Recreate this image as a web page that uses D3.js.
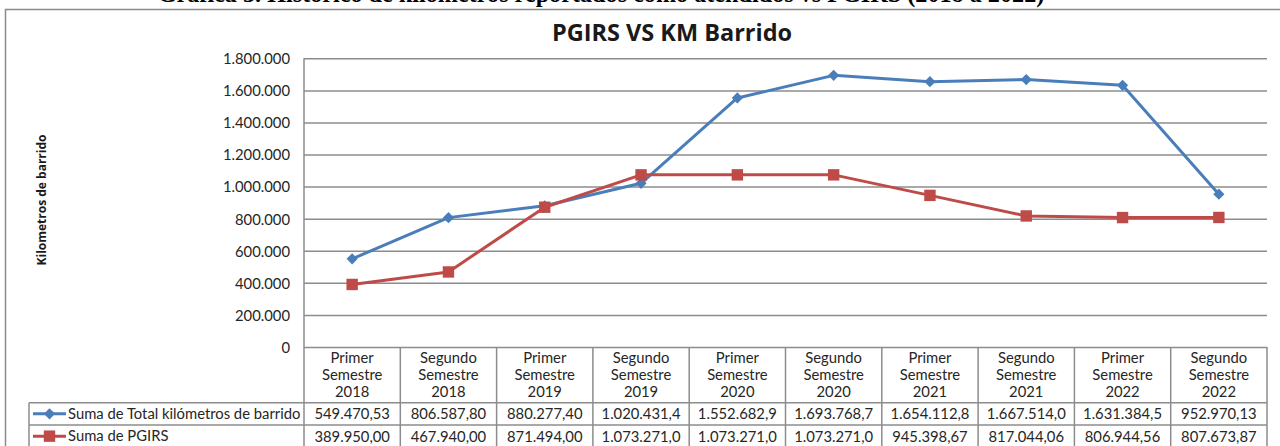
<!DOCTYPE html>
<html>
<head>
<meta charset="utf-8">
<script src="https://cdn.jsdelivr.net/npm/d3@7"></script>
<style>
  body { margin: 0; background: #fff; }
  svg { display: block; }
  .tick text, .cell { font-family: Lato, "Noto Sans", sans-serif; font-size: 14.8px; fill: #262626; }
</style>
</head>
<body>
<script>
// data (table values under the plot)
const semesters = ['Primer', 'Segundo', 'Primer', 'Segundo', 'Primer', 'Segundo', 'Primer', 'Segundo', 'Primer', 'Segundo'];
const years = ['2018', '2018', '2019', '2019', '2020', '2020', '2021', '2021', '2022', '2022'];
const totalKm = [549470.53, 806587.80, 880277.40, 1020431.4, 1552682.9, 1693768.7, 1654112.8, 1667514.0, 1631384.5, 952970.13];
const pgirs = [389950.00, 467940.00, 871494.00, 1073271.0, 1073271.0, 1073271.0, 945398.67, 817044.06, 806944.56, 807673.87];
const yTicks = [0, 200000, 400000, 600000, 800000, 1000000, 1200000, 1400000, 1600000, 1800000];
const seriesNames = ['Suma de Total kilómetros de barrido', 'Suma de PGIRS'];

// layout
const width = 1280;
const height = 446;
const plotLeft = 304;
const plotRight = 1267;
const plotTop = 58.3;
const zeroY = 347;
const headerBottom = 402.7;
const rowH = 22.3;
const legendLeft = 29;
const gridColor = '#8c8c8c';
const colors = ['#4a7ebb', '#be4b48'];

const locale = d3.formatLocale({ decimal: ',', thousands: '.', grouping: [3], currency: ['$', ''] });
const fmtTick = locale.format(',.0f');
// excel cuts the millions to one decimal in the narrow cells
const fmtCell = (v) => (v >= 1e6 ? locale.format(',.1f')(v) : locale.format(',.2f')(v));

const svg = d3.select('body').append('svg')
  .attr('width', width)
  .attr('height', height);

// document caption, cut at the top of the picture like in the source
const caption = svg.append('text')
  .attr('x', 601)
  .attr('y', 2)
  .attr('text-anchor', 'middle')
  .style('font-family', '"Liberation Serif", serif')
  .style('font-weight', 'bold')
  .style('font-size', '17px')
  .text('Gráfica 3. Histórico de kilómetros reportados como atendidos vs PGIRS (2018 a 2022)');
const capLen = caption.node().getComputedTextLength();
caption.style('font-size', `${17 * 887 / capLen}px`);

// chart frame
svg.append('rect')
  .attr('x', 5.5)
  .attr('y', 9.5)
  .attr('width', 1290)
  .attr('height', 460)
  .attr('fill', 'none')
  .attr('stroke', '#8a8a8a')
  .attr('stroke-width', 1.5);

svg.append('text')
  .attr('x', 672)
  .attr('y', 41)
  .attr('text-anchor', 'middle')
  .style('font-family', '"Open Sans", sans-serif')
  .style('font-weight', 'bold')
  .style('font-size', '23.5px')
  .style('fill', '#1a1a1a')
  .text('PGIRS VS KM Barrido');

svg.append('text')
  .attr('transform', 'translate(46, 200) rotate(-90)')
  .attr('text-anchor', 'middle')
  .style('font-family', '"Open Sans", sans-serif')
  .style('font-weight', 'bold')
  .style('font-size', '12px')
  .style('fill', '#1a1a1a')
  .text('Kilometros de barrido');

const x = d3.scaleBand()
  .domain(d3.range(semesters.length))
  .range([plotLeft, plotRight]);
const y = d3.scaleLinear()
  .domain([0, 1800000])
  .range([zeroY, plotTop]);

// y axis with gridlines
const gAxis = svg.append('g')
  .attr('transform', `translate(${plotLeft}, 0)`)
  .call(d3.axisLeft(y).tickValues(yTicks).tickFormat(fmtTick)
    .tickSize(-(plotRight - plotLeft)).tickPadding(14));
gAxis.select('.domain').remove();
gAxis.selectAll('.tick line')
  .attr('stroke', gridColor)
  .attr('stroke-width', 1.5);
gAxis.selectAll('.tick text')
  .attr('dy', '0.36em');

// table under the plot
const tableBottom = height + 2;
const table = svg.append('g')
  .attr('stroke', gridColor)
  .attr('stroke-width', 1.5);
table.append('line')
  .attr('x1', plotLeft).attr('x2', plotLeft)
  .attr('y1', plotTop).attr('y2', tableBottom);
x.domain().forEach((i) => {
  const xr = x(i) + x.bandwidth();
  table.append('line')
    .attr('x1', xr).attr('x2', xr)
    .attr('y1', zeroY).attr('y2', tableBottom);
});
[headerBottom, headerBottom + rowH].forEach((ly) => {
  table.append('line')
    .attr('x1', legendLeft).attr('x2', plotRight)
    .attr('y1', ly).attr('y2', ly);
});
table.append('line')
  .attr('x1', legendLeft).attr('x2', legendLeft)
  .attr('y1', headerBottom).attr('y2', tableBottom);

// header cells
const cx = (i) => x(i) + x.bandwidth() / 2;
const header = svg.selectAll('.head')
  .data(d3.range(semesters.length))
  .join('text')
  .attr('class', 'cell head')
  .attr('text-anchor', 'middle');
header.append('tspan').attr('y', 363).attr('x', cx).text((i) => semesters[i]);
header.append('tspan').attr('y', 380).attr('x', cx).text('Semestre');
header.append('tspan').attr('y', 397).attr('x', cx).text((i) => years[i]);

// value rows
[totalKm, pgirs].forEach((vals, r) => {
  svg.selectAll(null)
    .data(vals)
    .join('text')
    .attr('class', 'cell')
    .attr('text-anchor', 'middle')
    .attr('x', (d, i) => cx(i))
    .attr('y', headerBottom + rowH * r + 16.5)
    .text((d) => fmtCell(d));
});

// legend keys in the table
const symbols = [d3.symbolDiamond2, d3.symbolSquare];
const symSize = [80, 130];
seriesNames.forEach((name, r) => {
  const ly = headerBottom + rowH * r + rowH / 2;
  const g = svg.append('g');
  g.append('line')
    .attr('x1', 33).attr('x2', 66)
    .attr('y1', ly).attr('y2', ly)
    .attr('stroke', colors[r])
    .attr('stroke-width', 3);
  g.append('path')
    .attr('transform', `translate(49.5, ${ly})`)
    .attr('d', d3.symbol(symbols[r], symSize[r]))
    .attr('fill', colors[r]);
  g.append('text')
    .attr('class', 'cell')
    .attr('x', 68)
    .attr('y', ly + 5)
    .text(name);
});

// series lines and markers
const line = d3.line()
  .x((d, i) => cx(i))
  .y((d) => y(d));
[totalKm, pgirs].forEach((vals, r) => {
  svg.append('path')
    .datum(vals)
    .attr('d', line)
    .attr('fill', 'none')
    .attr('stroke', colors[r])
    .attr('stroke-width', 3)
    .attr('stroke-linejoin', 'round');
  svg.selectAll(null)
    .data(vals)
    .join('path')
    .attr('transform', (d, i) => `translate(${cx(i)}, ${y(d)})`)
    .attr('d', d3.symbol(symbols[r], symSize[r]))
    .attr('fill', colors[r]);
});
</script>
</body>
</html>
